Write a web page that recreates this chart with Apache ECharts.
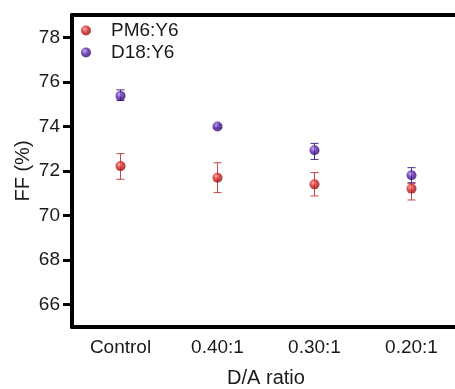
<!DOCTYPE html>
<html>
<head>
<meta charset="utf-8">
<script src="https://cdn.jsdelivr.net/npm/echarts@6/dist/echarts.min.js"></script>
<style>
  html, body { margin: 0; padding: 0; background: #fff; }
  #chart { width: 455px; height: 389px; }
</style>
</head>
<body>
<div id="chart"></div>
<script>
const categories = ['Control', '0.40:1', '0.30:1', '0.20:1'];
const yTicks = [66, 68, 70, 72, 74, 76, 78];

const pm6 = [72.22, 71.70, 71.40, 71.21];
const pm6Low = [71.63, 71.03, 70.88, 70.70];
const pm6High = [72.78, 72.37, 71.93, 71.45];

const d18 = [75.37, 74.00, 72.93, 71.81];
const d18Low = [75.16, 73.93, 72.52, 71.47];
const d18High = [75.64, 74.07, 73.24, 72.15];

const font = 'Liberation Sans, Arial, sans-serif';

function ball(light, mid, dark) {
    return {
        type: 'radial', x: 0.38, y: 0.35, r: 0.7,
        colorStops: [
            {offset: 0, color: light},
            {offset: 0.45, color: mid},
            {offset: 1, color: dark}
        ]
    }
}

function errorBars(name, color, lows, highs) {
    return {
        name: name + ' err',
        type: 'custom',
        z: 1,
        data: categories.map((c, i) => [i, lows[i], highs[i]]),
        encode: {x: 0, y: [1, 2]},
        renderItem: (params, api) => {
            const x = api.value(0)
            const lo = api.coord([x, api.value(1)])
            const hi = api.coord([x, api.value(2)])
            const w = 4
            const style = {stroke: color, lineWidth: 1}
            return {
                type: 'group',
                children: [
                    {type: 'line', shape: {x1: lo[0], y1: lo[1], x2: hi[0], y2: hi[1]}, style},
                    {type: 'line', shape: {x1: lo[0] - w, y1: lo[1], x2: lo[0] + w, y2: lo[1]}, style},
                    {type: 'line', shape: {x1: hi[0] - w, y1: hi[1], x2: hi[0] + w, y2: hi[1]}, style}
                ]
            }
        }
    }
}

const chart = echarts.init(document.getElementById('chart'))
chart.setOption({
    animation: false,
    backgroundColor: '#fff',
    textStyle: {fontFamily: font},
    grid: {left: 72, top: 15, right: -5, bottom: 62, outerBoundsMode: 'none'},
    legend: {
        data: ['PM6:Y6', 'D18:Y6'],
        orient: 'vertical',
        left: 76,
        top: 16,
        itemWidth: 10,
        itemHeight: 10,
        itemGap: 3,
        icon: 'circle',
        textStyle: {fontFamily: font, fontSize: 19, color: '#1a1a1a', padding: [0, 0, 0, 15]}
    },
    xAxis: [
        {
            type: 'category',
            data: categories,
            name: 'D/A ratio',
            nameLocation: 'middle',
            nameGap: 41,
            nameMoveOverlap: false,
            nameTextStyle: {fontFamily: font, fontSize: 20, color: '#1a1a1a'},
            axisLine: {lineStyle: {color: '#000', width: 4}},
            axisTick: {alignWithLabel: true, length: 8, lineStyle: {color: '#000', width: 3}},
            axisLabel: {fontFamily: font, fontSize: 19, color: '#1a1a1a', margin: 11}
        },
        {
            type: 'category',
            data: categories,
            position: 'top',
            axisLine: {lineStyle: {color: '#000', width: 4}},
            axisTick: {show: false},
            axisLabel: {show: false}
        }
    ],
    yAxis: {
        type: 'value',
        min: 65,
        max: 79,
        name: 'FF (%)',
        nameLocation: 'middle',
        nameGap: 39,
        nameMoveOverlap: false,
        nameTextStyle: {fontFamily: font, fontSize: 20, color: '#1a1a1a'},
        splitLine: {show: false},
        axisLine: {show: true, lineStyle: {color: '#000', width: 4}},
        axisTick: {show: true, length: 9, customValues: yTicks, lineStyle: {color: '#000', width: 3}},
        axisLabel: {fontFamily: font, fontSize: 19, color: '#1a1a1a', margin: 12, customValues: yTicks}
    },
    series: [
        errorBars('PM6:Y6', '#c04848', pm6Low, pm6High),
        errorBars('D18:Y6', '#4a2a90', d18Low, d18High),
        {
            name: 'PM6:Y6',
            type: 'scatter',
            z: 3,
            symbolSize: 10,
            data: pm6,
            itemStyle: {color: ball('#ff9a9a', '#d42222', '#8a0808')}
        },
        {
            name: 'D18:Y6',
            type: 'scatter',
            z: 3,
            symbolSize: 10,
            data: d18,
            itemStyle: {color: ball('#b69af0', '#5a22aa', '#2a0868')}
        }
    ]
})
</script>
</body>
</html>
